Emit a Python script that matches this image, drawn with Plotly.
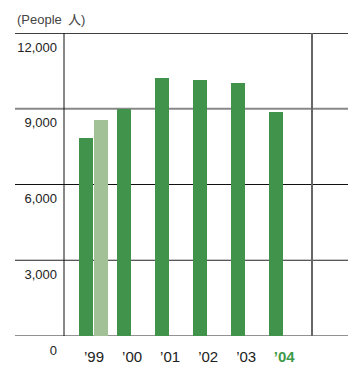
import plotly.graph_objects as go

years = ["'99", "'00", "'01", "'02", "'03", "'04"]
employees = [7840, 8980, 10220, 10140, 10020, 8870]
extra_year = ["'99"]
extra_value = [8550]
y_ticks = [0, 3000, 6000, 9000, 12000]
y_tick_labels = ["0", "3,000", "6,000", "9,000", "12,000"]
x_tick_labels = ["’99", "’00", "’01", "’02", "’03",
                 "<b><span style='color:#3f9a4a'>’04</span></b>"]

DARK = "#41924b"
LIGHT = "#a3c197"
FONT = "Liberation Sans, Arial, Noto Sans CJK JP"

fig = go.Figure()
fig.add_trace(go.Bar(x=years, y=employees, width=0.368, marker_color=DARK,
                     marker_line_width=0, showlegend=False, hoverinfo="skip"))
fig.add_trace(go.Bar(x=extra_year, y=extra_value, width=0.368, offset=0.21,
                     marker_color=LIGHT, marker_line_width=0, showlegend=False,
                     hoverinfo="skip"))

# horizontal rules extending beyond plot area
x0p = (15 - 64) / (312 - 64)
x1p = (348 - 64) / (312 - 64)
line_styles = {0: ("#222", 1), 3000: ("#222", 1), 6000: ("#111", 1),
               9000: ("#888", 2), 12000: ("#000", 1.3)}
for v in y_ticks:
    c, w = line_styles[v]
    fig.add_shape(type="line", xref="paper", yref="y", x0=x0p, x1=x1p, y0=v, y1=v,
                  line=dict(color=c, width=w), layer="below")
fig.add_shape(type="line", xref="paper", yref="paper", x0=0, x1=0, y0=0, y1=1,
              line=dict(color="#111", width=1), layer="below")
fig.add_shape(type="line", xref="paper", yref="paper", x0=1, x1=1, y0=0, y1=1,
              line=dict(color="#666", width=2), layer="below")

fig.add_annotation(text="(People \u2009人)", xref="paper", yref="paper",
                   x=x0p, y=1, yshift=14, xanchor="left", yanchor="middle",
                   showarrow=False, font=dict(family=FONT, size=13, color="#444"))

fig.update_layout(
    template="none",
    width=348, height=366,
    margin=dict(l=64, r=36, t=33, b=30, pad=0),
    paper_bgcolor="white", plot_bgcolor="rgba(0,0,0,0)",
    barmode="overlay", bargap=0,
    font=dict(family=FONT, size=13, color="#222"),
    xaxis=dict(type="category", categoryorder="array", categoryarray=years,
               range=[-0.579, 5.94], showgrid=False, zeroline=False, showline=False,
               automargin=False,
               ticks="", tickvals=years, ticktext=x_tick_labels,
               ticklabelshift=8, ticklabelstandoff=10,
               tickfont=dict(family=FONT, size=15, color="#222")),
    yaxis=dict(range=[0, 12000], showgrid=False, zeroline=False, showline=False,
               automargin=False,
               ticks="", tickvals=y_ticks, ticktext=y_tick_labels,
               ticklabelshift=14, ticklabelstandoff=6,
               tickfont=dict(family=FONT, size=13, color="#222")),
)

fig.write_html("out.html", config={"displayModeBar": False, "staticPlot": True},
               post_script="document.body.style.margin='0';document.body.style.overflow='hidden';")
